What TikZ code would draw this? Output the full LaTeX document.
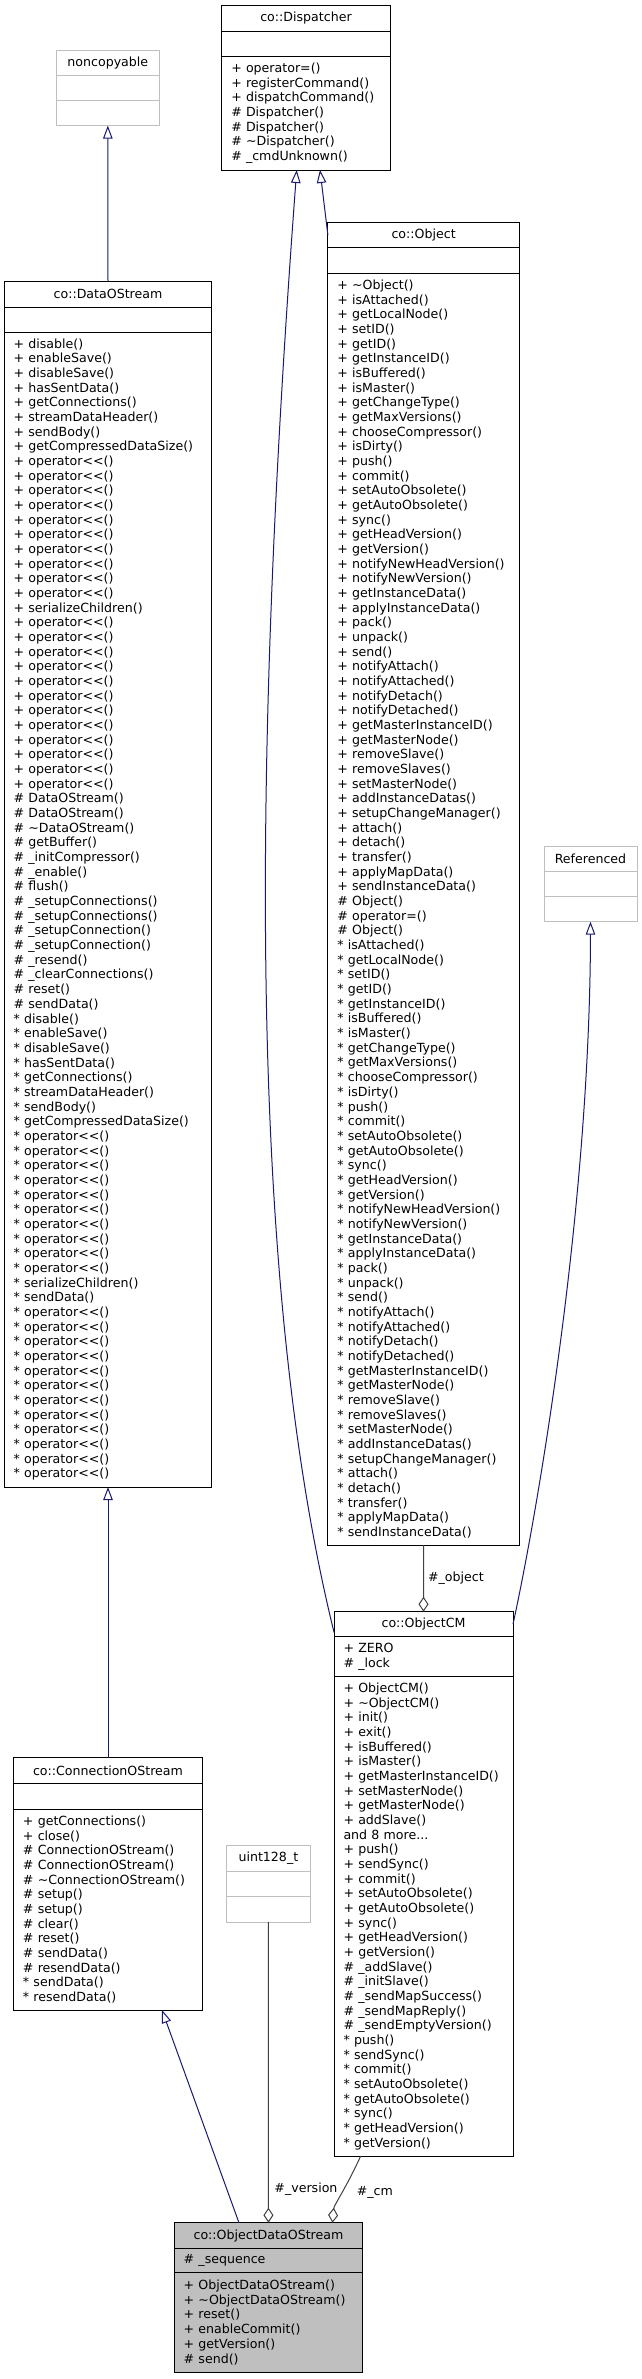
\documentclass[tikz,border=0pt]{standalone}
\usepackage{fontspec}
\setmainfont{DejaVu Sans}
\usepackage{tikz}
\usetikzlibrary{arrows.meta, positioning, calc}
\definecolor{inhblue}{RGB}{25,25,112}
\definecolor{aggrgray}{RGB}{64,64,64}
\definecolor{undocgray}{RGB}{191,191,191}
\newcommand{\umlfont}{\fontsize{12.6}{14.67}\selectfont}
\newcommand{\ops}{operator<{}<()}
\tikzset{
  classbox/.style={draw=black, line width=1pt, inner sep=0pt, outer sep=0pt, font=\umlfont},
  classname/.style={classbox, minimum height=25pt, align=center, anchor=north},
  members/.style 2 args={classbox, inner xsep=9.5pt, text width=#1,
    minimum height=#2, align=left, anchor=north},
  undoc/.style={draw=undocgray},
  current/.style={fill=undocgray},
  inherit/.style={-{Triangle[open, length=13pt, width=9.5pt]}, line width=1pt, draw=inhblue},
  aggr/.style={{Diamond[open, length=15pt, width=10pt]}-, line width=1pt, draw=aggrgray},
  rolelabel/.style={font=\umlfont, inner sep=1pt},
}

\begin{document}
\begin{tikzpicture}[x=1pt, y=-1pt]
  \useasboundingbox (0,0) rectangle (641,2379);

  %% noncopyable
  \node[classname, undoc, minimum width=103.3pt] (ncT) at (107.8,50.3) {noncopyable};
  \node[members={84.3pt}{25pt}, undoc, below=0pt of ncT] (ncA) {};
  \node[members={84.3pt}{25.3pt}, undoc, below=0pt of ncA] (ncM) {};

  %% co::Dispatcher
  \node[classname, minimum width=168.5pt, minimum height=25.6pt] (dispT) at (306,5.7) {co::Dispatcher};
  \node[members={149.5pt}{25.4pt}, below=0pt of dispT] (dispA) {};
  \node[members={149.5pt}{113.3pt}, below=0pt of dispA] (dispM)
    {+ operator=()\\+ registerCommand()\\+ dispatchCommand()\\\# Dispatcher()\\
     \# Dispatcher()\\\# \textasciitilde Dispatcher()\\\# \_cmdUnknown()};

  %% co::DataOStream
  \node[classname, minimum width=207.8pt, minimum height=26pt] (dosT) at (108,281) {co::DataOStream};
  \node[members={188.8pt}{25pt}, below=0pt of dosT] (dosA) {};
  \node[members={188.8pt}{1155pt}, below=0pt of dosA] (dosM)
    {+ disable()\\+ enableSave()\\+ disableSave()\\+ hasSentData()\\+ getConnections()\\
     + streamDataHeader()\\+ sendBody()\\+ getCompressedDataSize()\\
     + \ops\\+ \ops\\+ \ops\\+ \ops\\+ \ops\\+ \ops\\+ \ops\\+ \ops\\+ \ops\\+ \ops\\
     + serializeChildren()\\
     + \ops\\+ \ops\\+ \ops\\+ \ops\\+ \ops\\+ \ops\\+ \ops\\+ \ops\\+ \ops\\+ \ops\\+ \ops\\+ \ops\\
     \# DataOStream()\\\# DataOStream()\\\# \textasciitilde DataOStream()\\\# getBuffer()\\
     \# \_initCompressor()\\\# \_enable()\\\# flush()\\\# \_setupConnections()\\
     \# \_setupConnections()\\\# \_setupConnection()\\\# \_setupConnection()\\\# \_resend()\\
     \# \_clearConnections()\\\# reset()\\\# sendData()\\
     {}* disable()\\{}* enableSave()\\{}* disableSave()\\{}* hasSentData()\\{}* getConnections()\\
     {}* streamDataHeader()\\{}* sendBody()\\{}* getCompressedDataSize()\\
     {}* \ops\\{}* \ops\\{}* \ops\\{}* \ops\\{}* \ops\\{}* \ops\\{}* \ops\\{}* \ops\\{}* \ops\\{}* \ops\\
     {}* serializeChildren()\\{}* sendData()\\
     {}* \ops\\{}* \ops\\{}* \ops\\{}* \ops\\{}* \ops\\{}* \ops\\{}* \ops\\{}* \ops\\{}* \ops\\{}* \ops\\
     {}* \ops\\{}* \ops};

  %% co::Object
  \node[classname, minimum width=191.4pt] (objT) at (423.6,222.7) {co::Object};
  \node[members={172.4pt}{25.3pt}, below=0pt of objT] (objA) {};
  \node[members={172.4pt}{1272pt}, below=0pt of objA] (objM)
    {+ \textasciitilde Object()\\+ isAttached()\\+ getLocalNode()\\+ setID()\\+ getID()\\
     + getInstanceID()\\+ isBuffered()\\+ isMaster()\\+ getChangeType()\\+ getMaxVersions()\\
     + chooseCompressor()\\+ isDirty()\\+ push()\\+ commit()\\+ setAutoObsolete()\\
     + getAutoObsolete()\\+ sync()\\+ getHeadVersion()\\+ getVersion()\\+ notifyNewHeadVersion()\\
     + notifyNewVersion()\\+ getInstanceData()\\+ applyInstanceData()\\+ pack()\\+ unpack()\\
     + send()\\+ notifyAttach()\\+ notifyAttached()\\+ notifyDetach()\\+ notifyDetached()\\
     + getMasterInstanceID()\\+ getMasterNode()\\+ removeSlave()\\+ removeSlaves()\\
     + setMasterNode()\\+ addInstanceDatas()\\+ setupChangeManager()\\+ attach()\\+ detach()\\
     + transfer()\\+ applyMapData()\\+ sendInstanceData()\\
     \# Object()\\\# operator=()\\\# Object()\\
     {}* isAttached()\\{}* getLocalNode()\\{}* setID()\\{}* getID()\\{}* getInstanceID()\\
     {}* isBuffered()\\{}* isMaster()\\{}* getChangeType()\\{}* getMaxVersions()\\
     {}* chooseCompressor()\\{}* isDirty()\\{}* push()\\{}* commit()\\{}* setAutoObsolete()\\
     {}* getAutoObsolete()\\{}* sync()\\{}* getHeadVersion()\\{}* getVersion()\\
     {}* notifyNewHeadVersion()\\{}* notifyNewVersion()\\{}* getInstanceData()\\
     {}* applyInstanceData()\\{}* pack()\\{}* unpack()\\{}* send()\\{}* notifyAttach()\\
     {}* notifyAttached()\\{}* notifyDetach()\\{}* notifyDetached()\\{}* getMasterInstanceID()\\
     {}* getMasterNode()\\{}* removeSlave()\\{}* removeSlaves()\\{}* setMasterNode()\\
     {}* addInstanceDatas()\\{}* setupChangeManager()\\{}* attach()\\{}* detach()\\
     {}* transfer()\\{}* applyMapData()\\{}* sendInstanceData()};

  %% Referenced
  \node[classname, undoc, minimum width=93pt, minimum height=24.3pt] (refT) at (590.5,846.7) {Referenced};
  \node[members={74pt}{25.7pt}, undoc, below=0pt of refT] (refA) {};
  \node[members={74pt}{25pt}, undoc, below=0pt of refA] (refM) {};

  %% co::ObjectCM
  \node[classname, minimum width=179pt] (objcmT) at (423.5,1611.7) {co::ObjectCM};
  \node[members={160pt}{40pt}, below=0pt of objcmT] (objcmA) {+ ZERO\\\# \_lock};
  \node[members={160pt}{479.3pt}, below=0pt of objcmA] (objcmM)
    {+ ObjectCM()\\+ \textasciitilde ObjectCM()\\+ init()\\+ exit()\\+ isBuffered()\\+ isMaster()\\
     + getMasterInstanceID()\\+ setMasterNode()\\+ getMasterNode()\\+ addSlave()\\and 8 more...\\
     + push()\\+ sendSync()\\+ commit()\\+ setAutoObsolete()\\+ getAutoObsolete()\\+ sync()\\
     + getHeadVersion()\\+ getVersion()\\\# \_addSlave()\\\# \_initSlave()\\\# \_sendMapSuccess()\\
     \# \_sendMapReply()\\\# \_sendEmptyVersion()\\
     {}* push()\\{}* sendSync()\\{}* commit()\\{}* setAutoObsolete()\\{}* getAutoObsolete()\\
     {}* sync()\\{}* getHeadVersion()\\{}* getVersion()};

  %% co::ConnectionOStream
  \node[classname, minimum width=189pt, minimum height=25.3pt] (connT) at (108,1757.7) {co::ConnectionOStream};
  \node[members={170pt}{26.3pt}, below=0pt of connT] (connA) {};
  \node[members={170pt}{200.7pt}, below=0pt of connA] (connM)
    {+ getConnections()\\+ close()\\\# ConnectionOStream()\\\# ConnectionOStream()\\
     \# \textasciitilde ConnectionOStream()\\\# setup()\\\# setup()\\\# clear()\\\# reset()\\
     \# sendData()\\\# resendData()\\{}* sendData()\\{}* resendData()};

  %% uint128_t
  \node[classname, undoc, minimum width=83.6pt, minimum height=25.3pt] (uintT) at (268.4,1845.7) {uint128\_t};
  \node[members={64.6pt}{25.7pt}, undoc, below=0pt of uintT] (uintA) {};
  \node[members={64.6pt}{25.3pt}, undoc, below=0pt of uintA] (uintM) {};

  %% co::ObjectDataOStream
  \node[classname, current, minimum width=188.5pt, minimum height=25.6pt] (odosT) at (268.45,2222.7) {co::ObjectDataOStream};
  \node[members={169.5pt}{24.4pt}, current, below=0pt of odosT] (odosA) {\# \_sequence};
  \node[members={169.5pt}{99.3pt}, current, below=0pt of odosA] (odosM)
    {+ ObjectDataOStream()\\+ \textasciitilde ObjectDataOStream()\\+ reset()\\+ enableCommit()\\
     + getVersion()\\\# send()};

  %% Inheritance
  \draw[inherit] (dosT.north) -- (ncM.south);
  \draw[inherit] (connT.north) -- (dosM.south);
  \draw[inherit] (objT.west) -- ($(dispM.south)+(14,0)$);
  \draw[inherit] ($(objcmT.west)+(0,8)$) .. controls (240,1250) and (258.5,683) .. ($(dispM.south)+(-9.3,0)$);
  \draw[inherit] (objcmT.east) .. controls (540,1500) and (590,1200) .. (refM.south);
  \draw[inherit] ($(odosT.north)+(-29.5,0)$) -- ($(connM.south)+(54,0)$);

  %% Members
  \draw[aggr] (objcmT.north) -- node[rolelabel, right=3pt] (objlbl) {\#\_object} (objM.south);
  \draw[aggr] (odosT.north) -- node[rolelabel, pos=0.11, right=4.5pt] (verlbl) {\#\_version} (uintM.south);
  \draw[aggr] ($(odosT.north)+(64,0)$) .. controls (334,2205) and (345,2190)
    .. node[rolelabel, pos=0.55, right=12.5pt] (cmlbl) {\#\_cm} ($(objcmM.south)+(-62.8,0)$);

\end{tikzpicture}
\end{document}
